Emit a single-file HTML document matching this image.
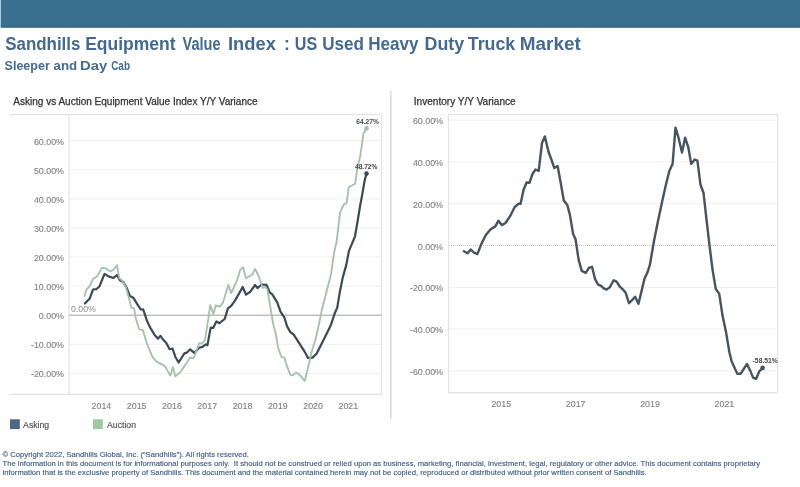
<!DOCTYPE html>
<html><head><meta charset="utf-8"><style>
html,body{margin:0;padding:0;background:#fff;width:800px;height:487px;overflow:hidden}
svg{display:block;will-change:transform}
</style></head><body>
<svg width="800" height="487" viewBox="0 0 800 487">
<rect x="0" y="0" width="800" height="487" fill="#fff"/>
<rect x="0" y="0" width="1" height="27.6" fill="#a9c9e2"/>
<rect x="1" y="0" width="799" height="27.6" fill="#3a6f90"/>
<rect x="1" y="25" width="799" height="2.6" fill="#386b8b"/>
<text x="5.20" y="49.8" textLength="75.20" lengthAdjust="spacingAndGlyphs" font-family='"Liberation Sans", sans-serif' font-weight="bold" font-size="17.5" fill="#46698f">Sandhills</text>
<text x="85.20" y="49.8" textLength="90.40" lengthAdjust="spacingAndGlyphs" font-family='"Liberation Sans", sans-serif' font-weight="bold" font-size="17.5" fill="#46698f">Equipment</text>
<text x="182.60" y="49.8" textLength="38.00" lengthAdjust="spacingAndGlyphs" font-family='"Liberation Sans", sans-serif' font-weight="bold" font-size="17.5" fill="#46698f">Value</text>
<text x="228.00" y="49.8" textLength="48.00" lengthAdjust="spacingAndGlyphs" font-family='"Liberation Sans", sans-serif' font-weight="bold" font-size="17.5" fill="#46698f">Index</text>
<text x="283.9" y="49.8" font-family='"Liberation Sans", sans-serif' font-weight="bold" font-size="17.5" fill="#46698f">:</text>
<text x="294.80" y="49.8" textLength="22.40" lengthAdjust="spacingAndGlyphs" font-family='"Liberation Sans", sans-serif' font-weight="bold" font-size="17.5" fill="#46698f">US</text>
<text x="322.20" y="49.8" textLength="41.80" lengthAdjust="spacingAndGlyphs" font-family='"Liberation Sans", sans-serif' font-weight="bold" font-size="17.5" fill="#46698f">Used</text>
<text x="368.20" y="49.8" textLength="50.40" lengthAdjust="spacingAndGlyphs" font-family='"Liberation Sans", sans-serif' font-weight="bold" font-size="17.5" fill="#46698f">Heavy</text>
<text x="424.60" y="49.8" textLength="39.60" lengthAdjust="spacingAndGlyphs" font-family='"Liberation Sans", sans-serif' font-weight="bold" font-size="17.5" fill="#46698f">Duty</text>
<text x="467.80" y="49.8" textLength="47.40" lengthAdjust="spacingAndGlyphs" font-family='"Liberation Sans", sans-serif' font-weight="bold" font-size="17.5" fill="#46698f">Truck</text>
<text x="519.80" y="49.8" textLength="61.00" lengthAdjust="spacingAndGlyphs" font-family='"Liberation Sans", sans-serif' font-weight="bold" font-size="17.5" fill="#46698f">Market</text>
<text x="4.60" y="69.6" textLength="45.20" lengthAdjust="spacingAndGlyphs" font-family='"Liberation Sans", sans-serif' font-weight="bold" font-size="12.37" fill="#46698f">Sleeper</text>
<text x="53.60" y="69.6" textLength="23.60" lengthAdjust="spacingAndGlyphs" font-family='"Liberation Sans", sans-serif' font-weight="bold" font-size="12.37" fill="#46698f">and</text>
<text x="80.00" y="69.6" textLength="27.20" lengthAdjust="spacingAndGlyphs" font-family='"Liberation Sans", sans-serif' font-weight="bold" font-size="12.37" fill="#46698f">Day</text>
<text x="111.20" y="69.6" textLength="18.80" lengthAdjust="spacingAndGlyphs" font-family='"Liberation Sans", sans-serif' font-weight="bold" font-size="12.37" fill="#46698f">Cab</text>
<text x="13.3" y="105.1" font-family='"Liberation Sans", sans-serif' font-size="10.03" fill="#333" stroke="#333" stroke-width="0.25">Asking vs Auction Equipment Value Index Y/Y Variance</text>
<text x="413.8" y="105" font-family='"Liberation Sans", sans-serif' font-size="10.07" fill="#333" stroke="#333" stroke-width="0.25">Inventory Y/Y Variance</text>
<rect x="390" y="91" width="1.6" height="328.5" fill="#d9dde0"/>
<rect x="69" y="140.10" width="312.5" height="1" fill="#efefef"/>
<text x="64" y="144.60" text-anchor="end" font-family='"Liberation Sans", sans-serif' font-size="8.9" fill="#828282" stroke="#828282" stroke-width="0.12">60.00%</text>
<rect x="69" y="169.20" width="312.5" height="1" fill="#efefef"/>
<text x="64" y="173.70" text-anchor="end" font-family='"Liberation Sans", sans-serif' font-size="8.9" fill="#828282" stroke="#828282" stroke-width="0.12">50.00%</text>
<rect x="69" y="198.30" width="312.5" height="1" fill="#efefef"/>
<text x="64" y="202.80" text-anchor="end" font-family='"Liberation Sans", sans-serif' font-size="8.9" fill="#828282" stroke="#828282" stroke-width="0.12">40.00%</text>
<rect x="69" y="227.40" width="312.5" height="1" fill="#efefef"/>
<text x="64" y="231.90" text-anchor="end" font-family='"Liberation Sans", sans-serif' font-size="8.9" fill="#828282" stroke="#828282" stroke-width="0.12">30.00%</text>
<rect x="69" y="256.50" width="312.5" height="1" fill="#efefef"/>
<text x="64" y="261.00" text-anchor="end" font-family='"Liberation Sans", sans-serif' font-size="8.9" fill="#828282" stroke="#828282" stroke-width="0.12">20.00%</text>
<rect x="69" y="285.60" width="312.5" height="1" fill="#efefef"/>
<text x="64" y="290.10" text-anchor="end" font-family='"Liberation Sans", sans-serif' font-size="8.9" fill="#828282" stroke="#828282" stroke-width="0.12">10.00%</text>
<rect x="69" y="343.80" width="312.5" height="1" fill="#efefef"/>
<text x="64" y="348.30" text-anchor="end" font-family='"Liberation Sans", sans-serif' font-size="8.9" fill="#828282" stroke="#828282" stroke-width="0.12">-10.00%</text>
<rect x="69" y="372.90" width="312.5" height="1" fill="#efefef"/>
<text x="64" y="377.40" text-anchor="end" font-family='"Liberation Sans", sans-serif' font-size="8.9" fill="#828282" stroke="#828282" stroke-width="0.12">-20.00%</text>
<text x="64" y="319.20" text-anchor="end" font-family='"Liberation Sans", sans-serif' font-size="8.9" fill="#828282" stroke="#828282" stroke-width="0.12">0.00%</text>
<rect x="10" y="113.9" width="372.1" height="1.2" fill="#e2e2e2"/>
<rect x="10" y="393.7" width="372.1" height="1.2" fill="#e2e2e2"/>
<rect x="68.4" y="114.5" width="1.2" height="279.8" fill="#e2e2e2"/>
<rect x="380.9" y="114.5" width="1.2" height="279.8" fill="#e2e2e2"/>
<rect x="69" y="314.59999999999997" width="312.5" height="1.3" fill="#b5b5b5"/>
<text x="71" y="312" font-family='"Liberation Sans", sans-serif' font-size="8.75" fill="#8a8a8a">0.00%</text>
<text x="101.40" y="408.9" text-anchor="middle" font-family='"Liberation Sans", sans-serif' font-size="8.9" fill="#828282" stroke="#828282" stroke-width="0.12">2014</text>
<text x="136.68" y="408.9" text-anchor="middle" font-family='"Liberation Sans", sans-serif' font-size="8.9" fill="#828282" stroke="#828282" stroke-width="0.12">2015</text>
<text x="171.96" y="408.9" text-anchor="middle" font-family='"Liberation Sans", sans-serif' font-size="8.9" fill="#828282" stroke="#828282" stroke-width="0.12">2016</text>
<text x="207.24" y="408.9" text-anchor="middle" font-family='"Liberation Sans", sans-serif' font-size="8.9" fill="#828282" stroke="#828282" stroke-width="0.12">2017</text>
<text x="242.52" y="408.9" text-anchor="middle" font-family='"Liberation Sans", sans-serif' font-size="8.9" fill="#828282" stroke="#828282" stroke-width="0.12">2018</text>
<text x="277.80" y="408.9" text-anchor="middle" font-family='"Liberation Sans", sans-serif' font-size="8.9" fill="#828282" stroke="#828282" stroke-width="0.12">2019</text>
<text x="313.08" y="408.9" text-anchor="middle" font-family='"Liberation Sans", sans-serif' font-size="8.9" fill="#828282" stroke="#828282" stroke-width="0.12">2020</text>
<text x="348.36" y="408.9" text-anchor="middle" font-family='"Liberation Sans", sans-serif' font-size="8.9" fill="#828282" stroke="#828282" stroke-width="0.12">2021</text>
<polyline points="84.8,303.5 89.7,298.6 93,289.5 96.3,289.2 99.6,286.2 104.5,273.9 108.6,276.4 113.6,278 116.9,275 120.1,280.5 123.4,282.1 126.7,287.9 130,296.1 133.3,297.7 137.4,304.3 140.7,309.5 143.2,309.3 146.6,319.7 149.9,327.1 154.8,335.3 158.1,338.6 160.5,335.8 163,339.5 166.3,343.1 169.6,349.3 172.5,348.5 175.3,356.7 178.6,362.5 184.4,353.4 186.9,352.6 190.1,349.3 194.3,352.9 199.2,347.7 202.5,346.9 205.8,344.4 207.4,345.2 210.7,327.6 213.2,327.9 216.4,321.4 219.4,323.2 224.7,319 227.9,308.4 231.2,305.9 235.3,300.1 242.7,287 246,294.7 250.1,291.9 255.1,285 257.5,288.1 261.6,284.5 266.6,284.9 269.9,292.7 272.3,294.4 277.3,302.6 280.5,311.6 284.3,317.3 287.1,326.4 290.4,332.1 293.7,334.6 299.5,343.6 305.2,352.7 308,357.9 312.6,357.6 316.7,353.5 322.5,342 326.6,333.8 330.7,325.5 334.8,313.2 337.3,307.5 339.3,294.8 342.8,277.4 346.2,265.1 348.9,251.2 355,236.3 358.1,218.2 360.2,205.2 362.4,193.7 364.6,180.8 366.5,173.6" fill="none" stroke="#3a4a57" stroke-width="2.2" stroke-linejoin="round" stroke-linecap="round"/>
<polyline points="84.5,296.1 86.4,289.5 89.7,286.2 93,278.8 97.1,276.4 102,267.8 105.3,268.2 110.3,271.4 113.6,269.5 116.9,265.2 119.3,278 123.4,282.1 125.9,287.1 128.4,296.1 131.2,307.6 134.1,308.4 135.8,318.3 139,329 143,330.4 146.6,342.7 152.3,356.7 156.4,361.6 164.7,365.8 167.1,369.9 170.4,375.6 172.9,367.1 175.3,376.4 180.3,372.3 185.2,364.9 190.1,357.5 193.4,358.4 196.7,350.1 199.2,343.1 201.6,343.6 204.9,340.3 208.2,319.7 210.2,305.1 213.4,314 215.8,305.5 219.7,306.7 223,302.6 228.3,284.9 231.2,293.1 237,280.4 240.3,269.7 243.1,267.3 246,278.3 249.3,276.3 252.3,274.7 255.1,268.9 258.4,275.5 262.5,287.8 265.4,287 267.4,289.5 270.7,309.2 273.2,324 275.6,333 278.1,347.7 281.4,356.8 284.3,357.6 286.3,364.2 290.4,374.9 292.9,375.4 296.2,372.4 300.3,375.4 304.7,381 307.7,369.1 311,354.3 315.9,337.9 319.2,323.1 321.8,310 326.2,293.1 331.1,273.9 334,252.9 336.6,241.6 338.7,223.9 340.1,212.4 343.7,204.5 346.6,203.1 348.7,187.3 355.2,183.7 357.4,167.9 360.1,156.8 362.1,143.4 363.4,133.4 366.5,128.4" fill="none" stroke="#9fbfa5" stroke-opacity="0.95" stroke-width="1.85" stroke-linejoin="round" stroke-linecap="round"/>
<circle cx="366.5" cy="128.4" r="2.3" fill="#9fbfa5"/>
<circle cx="366.5" cy="173.6" r="2.3" fill="#3a4a57"/>
<text x="356.3" y="123.6" textLength="22.5" lengthAdjust="spacingAndGlyphs" font-family='"Liberation Sans", sans-serif' font-weight="bold" font-size="8" fill="#454545">64.27%</text>
<text x="355" y="168.7" textLength="22.4" lengthAdjust="spacingAndGlyphs" font-family='"Liberation Sans", sans-serif' font-weight="bold" font-size="8" fill="#454545">48.72%</text>
<rect x="10" y="419.3" width="9.8" height="9.8" fill="#4b6783"/>
<text x="23.1" y="428" font-family='"Liberation Sans", sans-serif' font-size="8.7" fill="#505050" stroke="#505050" stroke-width="0.15">Asking</text>
<rect x="93" y="419.3" width="9.8" height="9.8" fill="#9cc9a2"/>
<text x="107" y="428" font-family='"Liberation Sans", sans-serif' font-size="8.7" fill="#505050" stroke="#505050" stroke-width="0.15">Auction</text>
<rect x="448.5" y="119.66" width="329.1" height="1" fill="#efefef"/>
<text x="443" y="124.16" text-anchor="end" font-family='"Liberation Sans", sans-serif' font-size="8.9" fill="#828282" stroke="#828282" stroke-width="0.12">60.00%</text>
<rect x="448.5" y="161.44" width="329.1" height="1" fill="#efefef"/>
<text x="443" y="165.94" text-anchor="end" font-family='"Liberation Sans", sans-serif' font-size="8.9" fill="#828282" stroke="#828282" stroke-width="0.12">40.00%</text>
<rect x="448.5" y="203.22" width="329.1" height="1" fill="#efefef"/>
<text x="443" y="207.72" text-anchor="end" font-family='"Liberation Sans", sans-serif' font-size="8.9" fill="#828282" stroke="#828282" stroke-width="0.12">20.00%</text>
<rect x="448.5" y="286.78" width="329.1" height="1" fill="#efefef"/>
<text x="443" y="291.28" text-anchor="end" font-family='"Liberation Sans", sans-serif' font-size="8.9" fill="#828282" stroke="#828282" stroke-width="0.12">-20.00%</text>
<rect x="448.5" y="328.56" width="329.1" height="1" fill="#efefef"/>
<text x="443" y="333.06" text-anchor="end" font-family='"Liberation Sans", sans-serif' font-size="8.9" fill="#828282" stroke="#828282" stroke-width="0.12">-40.00%</text>
<rect x="448.5" y="370.34" width="329.1" height="1" fill="#efefef"/>
<text x="443" y="374.84" text-anchor="end" font-family='"Liberation Sans", sans-serif' font-size="8.9" fill="#828282" stroke="#828282" stroke-width="0.12">-60.00%</text>
<line x1="449" y1="245.5" x2="777" y2="245.5" stroke="#c6c6c6" stroke-width="1" stroke-dasharray="1,1"/>
<text x="443" y="249.50" text-anchor="end" font-family='"Liberation Sans", sans-serif' font-size="8.9" fill="#828282" stroke="#828282" stroke-width="0.12">0.00%</text>
<rect x="447.9" y="113.9" width="330.3" height="1.2" fill="#e2e2e2"/>
<rect x="447.9" y="392.0" width="330.3" height="1.2" fill="#e2e2e2"/>
<rect x="447.9" y="114.5" width="1.2" height="278.1" fill="#e2e2e2"/>
<rect x="777.0" y="114.5" width="1.2" height="278.1" fill="#e2e2e2"/>
<text x="501.30" y="407.4" text-anchor="middle" font-family='"Liberation Sans", sans-serif' font-size="8.9" fill="#828282" stroke="#828282" stroke-width="0.12">2015</text>
<text x="575.67" y="407.4" text-anchor="middle" font-family='"Liberation Sans", sans-serif' font-size="8.9" fill="#828282" stroke="#828282" stroke-width="0.12">2017</text>
<text x="650.04" y="407.4" text-anchor="middle" font-family='"Liberation Sans", sans-serif' font-size="8.9" fill="#828282" stroke="#828282" stroke-width="0.12">2019</text>
<text x="724.41" y="407.4" text-anchor="middle" font-family='"Liberation Sans", sans-serif' font-size="8.9" fill="#828282" stroke="#828282" stroke-width="0.12">2021</text>
<polyline points="463.9,251.3 467.6,253.2 470.7,249.5 474,252.6 477.4,254.1 481.4,243.9 486,234.7 490.7,229.2 495.3,226.4 498.4,220.8 501.8,225.1 505.5,223 510.1,216.2 514.7,207 518.4,203.8 520.6,203.8 523.5,190 526.6,182.5 529.5,182.8 532.5,174 535.5,169.5 538.7,170.9 542,143 544.8,136.4 548.6,152 551.9,161 554.3,168 557.6,166 560.9,184 563.8,200.5 567.3,205.1 569.8,214.4 573.1,233.9 575.5,239 578.6,259.6 581.7,270.9 585.8,272.9 588.9,267.8 592,266.8 595.1,279.1 598.1,284.7 601.2,285.9 603.7,288.4 606.8,289.6 609.9,287.1 613.6,280.3 616.6,281.6 619.7,286.5 622.8,289.3 625.6,292.7 629,303.2 632.1,300.1 635.1,296.7 638.5,303.8 641.3,292.1 644.4,279.1 647.5,272.3 649.9,264.9 653.6,243.1 657.7,222.6 662.5,200 665.9,184.8 669.4,170.8 672.6,163.9 675.5,127.6 678.5,137.7 682,152.5 685.1,137.7 688.3,147.3 691.2,163.9 694.7,159.5 697.4,160.7 700.5,184.8 703.5,192.7 706.4,218.7 709.5,245.4 712.6,270.1 715.8,289 719.2,293.6 722.6,316.1 726,332 729.4,352.3 731.6,361.3 737.3,373.7 740.7,373.7 747,364 750.1,370.4 753.1,377.6 756,378.9 759.2,371.5 762.6,367.9" fill="none" stroke="#46545f" stroke-width="2.4" stroke-linejoin="round" stroke-linecap="round"/>
<circle cx="762.6" cy="367.9" r="2.3" fill="#46545f"/>
<text x="752.6" y="363" textLength="25.3" lengthAdjust="spacingAndGlyphs" font-family='"Liberation Sans", sans-serif' font-weight="bold" font-size="8" fill="#454545">-58.51%</text>
<text x="2.5" y="456.90" xml:space="preserve" font-family='"Liberation Sans", sans-serif' font-size="7.675" fill="#3d5d83" stroke="#3d5d83" stroke-width="0.14">© Copyright 2022, Sandhills Global, Inc. (“Sandhills”). All rights reserved.</text>
<text x="2.5" y="465.80" xml:space="preserve" font-family='"Liberation Sans", sans-serif' font-size="7.675" fill="#3d5d83" stroke="#3d5d83" stroke-width="0.14">The information in this document is for informational purposes only.  It should not be construed or relied upon as business, marketing, financial, investment, legal, regulatory or other advice. This document contains proprietary</text>
<text x="2.5" y="474.70" xml:space="preserve" font-family='"Liberation Sans", sans-serif' font-size="7.675" fill="#3d5d83" stroke="#3d5d83" stroke-width="0.14">information that is the exclusive property of Sandhills. This document and the material contained herein may not be copied, reproduced or distributed without prior written consent of Sandhills.</text>
</svg>
</body></html>
